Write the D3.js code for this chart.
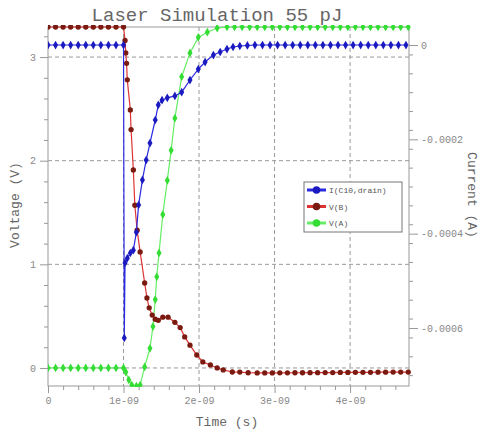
<html>
<head>
<script src="https://d3js.org/d3.v7.min.js"></script>
<style>
  body { margin: 0; background: #fff; }
  text { font-family: "Liberation Mono", "DejaVu Sans Mono", monospace; }
</style>
</head>
<body>
<svg></svg>
<script>
// time in ns, voltages in V, current in A
var tBlue = [0,0.1,0.2,0.3,0.4,0.5,0.6,0.7,0.8,0.9,1.0,1.01,1.02,1.05,1.09,1.13,1.17,1.2,1.25,1.3,1.35,1.42,1.46,1.51,1.58,1.68,1.77,1.88,1.99,2.08,2.19,2.28,2.37,2.45,2.54,2.64,2.74,2.84,2.94,3.04,3.14,3.24,3.34,3.44,3.54,3.64,3.74,3.84,3.94,4.04,4.14,4.24,4.34,4.44,4.54,4.64,4.74];
var iBlue = [0,0,0,0,0,0,0,0,0,0,0,-0.000621,-0.000462,-0.000452,-0.000441,-0.000435,-0.000397,-0.000339,-0.000286,-0.000244,-0.000208,-0.000159,-0.000127,-0.000117,-0.000112,-0.000108,-0.000100,-0.0000742,-0.0000509,-0.0000361,-0.0000212,-0.0000148,-0.0000085,-0.0000042,-0.0000021,-0.000001,0,0,0,0,0,0,0,0,0,0,0,0,0,0,0,0,0,0,0,0,0];

var tRed = [0,0.1,0.2,0.3,0.4,0.5,0.6,0.7,0.8,0.9,1.0,1.02,1.03,1.04,1.05,1.09,1.10,1.13,1.15,1.18,1.22,1.28,1.31,1.34,1.38,1.42,1.46,1.52,1.59,1.68,1.75,1.81,1.88,1.97,2.05,2.15,2.24,2.32,2.44,2.54,2.65,2.77,2.87,2.97,3.07,3.17,3.27,3.37,3.47,3.57,3.67,3.77,3.87,3.97,4.07,4.17,4.27,4.37,4.47,4.57,4.67,4.77];
var vRed = [3.29,3.29,3.29,3.29,3.29,3.29,3.29,3.29,3.29,3.29,3.29,3.16,3.04,2.94,2.78,2.49,2.30,1.91,1.57,1.33,1.12,0.82,0.675,0.58,0.51,0.47,0.46,0.49,0.49,0.44,0.39,0.30,0.22,0.125,0.058,0.029,0.0,-0.019,-0.039,-0.04,-0.046,-0.048,-0.048,-0.048,-0.047,-0.047,-0.046,-0.046,-0.045,-0.045,-0.044,-0.044,-0.043,-0.043,-0.042,-0.042,-0.042,-0.041,-0.041,-0.040,-0.040,-0.040];

var tGreen = [0,0.1,0.2,0.3,0.4,0.5,0.6,0.7,0.8,0.9,1.0,1.03,1.07,1.11,1.17,1.22,1.28,1.35,1.39,1.42,1.44,1.47,1.52,1.58,1.63,1.68,1.77,1.88,1.99,2.11,2.24,2.37,2.47,2.57,2.67,2.77,2.87,2.97,3.07,3.17,3.27,3.37,3.47,3.57,3.67,3.77,3.87,3.97,4.07,4.17,4.27,4.37,4.47,4.57,4.67,4.77];
var vGreen = [0,0,0,0,0,0,0,0,0,0,0,-0.04,-0.116,-0.165,-0.174,-0.165,0.01,0.19,0.40,0.66,0.88,1.11,1.48,1.81,2.10,2.41,2.81,3.04,3.19,3.24,3.28,3.29,3.29,3.29,3.29,3.29,3.29,3.29,3.29,3.29,3.29,3.29,3.29,3.29,3.29,3.29,3.29,3.29,3.29,3.29,3.29,3.29,3.29,3.29,3.29,3.29];

var xTicks = [0, 1, 2, 3, 4];
var xTickLabels = ["0", "1e-09", "2e-09", "3e-09", "4e-09"];
var vTicks = [0, 1, 2, 3];
var iTicks = [0, -0.0002, -0.0004, -0.0006];
var iTickLabels = ["0", "-0.0002", "-0.0004", "-0.0006"];
var seriesNames = ["I(C10,drain)", "V(B)", "V(A)"];

var width = 485, height = 431;
var margin = {left: 48, right: 76, top: 27, bottom: 45};

var svg = d3.select("svg").attr("width", width).attr("height", height);

var x = d3.scaleLinear().domain([0, 4.78]).range([margin.left, width - margin.right]);
var yV = d3.scaleLinear().domain([-0.174, 3.29]).range([height - margin.bottom, margin.top]);
var yI = d3.scaleLinear().domain([-0.000723, 0.0000382]).range([height - margin.bottom, margin.top]);

var x0 = margin.left, x1 = width - margin.right, y0 = height - margin.bottom, y1 = margin.top;

// grid
svg.append("g").selectAll("line").data(xTicks.slice(1)).enter().append("line")
  .attr("x1", function(d) { return x(d); }).attr("x2", function(d) { return x(d); })
  .attr("y1", y1).attr("y2", y0)
  .attr("stroke", "#999").attr("stroke-dasharray", "4,3");
svg.append("g").selectAll("line").data(vTicks).enter().append("line")
  .attr("y1", function(d) { return yV(d); }).attr("y2", function(d) { return yV(d); })
  .attr("x1", x0).attr("x2", x1)
  .attr("stroke", "#999").attr("stroke-dasharray", "4,3");

// axes
var xAxis = svg.append("g").attr("transform", "translate(0," + y0 + ")")
  .call(d3.axisBottom(x).tickValues(d3.range(0, 4.8, 0.2)).tickSize(4).tickFormat(""));
xAxis.selectAll(".tick line").filter(function(d) { return xTicks.indexOf(Math.round(d * 10) / 10) >= 0; }).attr("y2", 7);
svg.append("g").attr("transform", "translate(0," + y0 + ")")
  .call(d3.axisBottom(x).tickValues(xTicks).tickSize(0).tickPadding(11)
    .tickFormat(function(d, i) { return xTickLabels[i]; }));

var yAxis = svg.append("g").attr("transform", "translate(" + x0 + ",0)")
  .call(d3.axisLeft(yV).tickValues(d3.range(-0.0, 3.3, 0.2)).tickSize(4).tickFormat(""));
yAxis.selectAll(".tick line").attr("x2", function(d) {
  return vTicks.indexOf(Math.round(d * 10) / 10) >= 0 ? -8 : -4; });
svg.append("g").attr("transform", "translate(" + x0 + ",0)")
  .call(d3.axisLeft(yV).tickValues(vTicks).tickSize(0).tickPadding(12).tickFormat(d3.format("d")));

var rAxis = svg.append("g").attr("transform", "translate(" + x1 + ",0)")
  .call(d3.axisRight(yI).tickValues(d3.range(-0.0007, 0.00001, 0.00004)).tickSize(4).tickFormat(""));
svg.append("g").attr("transform", "translate(" + x1 + ",0)")
  .call(d3.axisRight(yI).tickValues(iTicks).tickSize(9).tickPadding(3)
    .tickFormat(function(d, i) { return iTickLabels[i]; }));

svg.selectAll(".domain").remove();
svg.selectAll(".tick line").attr("stroke", "#999");
svg.selectAll(".tick text").attr("fill", "#888").style("font-size", "10px")
  .style("font-family", "'Liberation Mono', monospace");

svg.append("rect").attr("x", x0).attr("y", y1).attr("width", x1 - x0).attr("height", y0 - y1)
  .attr("fill", "none").attr("stroke", "#999");

// clip
svg.append("clipPath").attr("id", "clip").append("rect")
  .attr("x", x0).attr("y", y1 - 2).attr("width", x1 - x0 + 2).attr("height", y0 - y1 + 3);
var plot = svg.append("g").attr("clip-path", "url(#clip)");

function drawSeries(ts, vs, yScale, lineColor, markColor, sym) {
  var pts = ts.map(function(t, i) { return [x(t), yScale(vs[i])]; });
  plot.append("path").datum(pts)
    .attr("fill", "none").attr("stroke", lineColor).attr("stroke-width", 1.2)
    .attr("d", d3.line());
  plot.append("g").selectAll("path").data(pts).enter().append("path")
    .attr("transform", function(d) { return "translate(" + d[0] + "," + d[1] + ")"; })
    .attr("d", d3.symbol().type(sym).size(22))
    .attr("fill", markColor);
}

drawSeries(tGreen, vGreen, yV, "#66ee66", "#33dd33", d3.symbolDiamond);
drawSeries(tRed, vRed, yV, "#dd3333", "#7a1a10", d3.symbolCircle);
drawSeries(tBlue, iBlue, yI, "#2a2ae0", "#1a1ac0", d3.symbolDiamond);

// legend
var legColors = [["#2a2ae0", "#1a1ac0"], ["#dd3333", "#7a1a10"], ["#66ee66", "#33dd33"]];
var leg = svg.append("g").attr("transform", "translate(304,182)");
leg.append("rect").attr("width", 98).attr("height", 50).attr("fill", "#fff").attr("stroke", "#777");
seriesNames.forEach(function(name, i) {
  var ly = 8 + i * 16.5;
  leg.append("line").attr("x1", 3).attr("x2", 22).attr("y1", ly).attr("y2", ly)
    .attr("stroke", legColors[i][0]).attr("stroke-width", 3);
  leg.append("path").attr("transform", "translate(12.5," + ly + ")")
    .attr("d", d3.symbol().type(d3.symbolCircle).size(45)).attr("fill", legColors[i][1]);
  leg.append("text").attr("x", 25).attr("y", ly + 3).text(name)
    .attr("fill", "#555").style("font-size", "8px");
});

// titles
svg.append("text").attr("x", 217).attr("y", 21).attr("text-anchor", "middle")
  .attr("fill", "#666").style("font-size", "19px").text("Laser Simulation 55 pJ");
svg.append("text").attr("x", 227).attr("y", 426).attr("text-anchor", "middle")
  .attr("fill", "#666").style("font-size", "13px").text("Time (s)");
svg.append("text").attr("transform", "translate(19,205) rotate(-90)").attr("text-anchor", "middle")
  .attr("fill", "#666").style("font-size", "13px").text("Voltage (V)");
svg.append("text").attr("transform", "translate(468,195) rotate(90)").attr("text-anchor", "middle")
  .attr("fill", "#666").style("font-size", "13px").text("Current (A)");
</script>
</body>
</html>
